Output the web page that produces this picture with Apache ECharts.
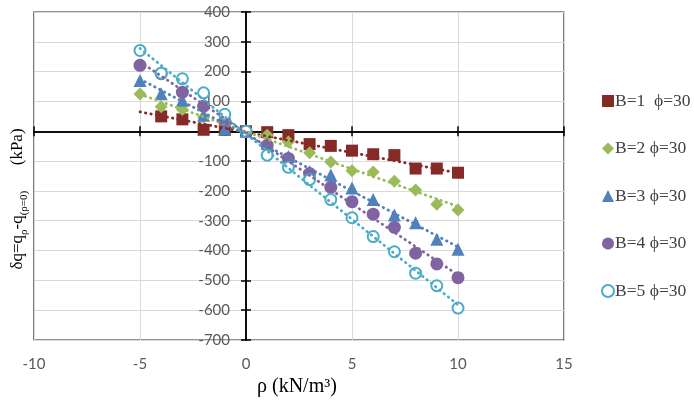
<!DOCTYPE html>
<html><head><meta charset="utf-8">
<script src="https://cdn.jsdelivr.net/npm/echarts@6/dist/echarts.min.js"></script>
</head><body style="margin:0;background:#fff">
<div id="c" style="width:694px;height:411px"></div>
<script>
const seriesNames = ['B=1  ϕ=30', 'B=2 ϕ=30', 'B=3 ϕ=30', 'B=4 ϕ=30', 'B=5 ϕ=30'];
const rhoB1 = [-4, -3, -2, -1, 0, 1, 2, 3, 4, 5, 6, 7, 8, 9, 10];
const rhoAll = [-5, -4, -3, -2, -1, 0, 1, 2, 3, 4, 5, 6, 7, 8, 9, 10];
const dqB1 = [50, 40, 5, 5, 0, -3, -13, -43, -49, -65, -77, -80, -125, -125, -139];
const dqB2 = [125, 82, 73, 47, 23, 0, -13, -36, -72, -103, -132, -137, -168, -197, -245, -264];
const dqB3 = [170, 126, 104, 54, 8, 0, -40, -85, -135, -147, -190, -229, -281, -307, -362, -396];
const dqB4 = [221, 193, 131, 84, 35, 0, -47, -91, -142, -188, -236, -278, -322, -409, -445, -491];
const dqB5 = [271, 195, 176, 129, 57, 0, -80, -121, -162, -229, -290, -353, -404, -476, -518, -593];
// dotted trendline end points: [rho start, rho end], [dq start, dq end]
const trendRho = [-5, 10];
const trendB1 = [65, -140];
const trendB2 = [124, -252];
const trendB3 = [175, -388];
const trendB4 = [233, -482];
const trendB5 = [278, -582];
const xTicks = { min: -10, max: 15, interval: 5 };
const yTicks = { min: -700, max: 400, interval: 100 };

const colors = ['#862a28', '#9BBB59', '#4F81BD', '#8064A2', '#4BACC6'];
const symbols = ['rect', 'diamond', 'triangle', 'circle', 'emptyCircle'];
const sizes = [12, 13, 13, 13, 11];
const xsets = [rhoB1, rhoAll, rhoAll, rhoAll, rhoAll];
const ysets = [dqB1, dqB2, dqB3, dqB4, dqB5];
const trends = [trendB1, trendB2, trendB3, trendB4, trendB5];

// grid geometry
const G = { left: 34, right: 130, top: 12, bottom: 71 };
const plotW = 694 - G.left - G.right;
const zeroOffset = plotW * (0 - xTicks.min) / (xTicks.max - xTicks.min); // distance of rho=0 from left edge

const pair = (xs, ys) => xs.map((x, i) => [x, ys[i]]);
const series = [];
for (let i = 0; i < 5; i++) {
  series.push({
    name: seriesNames[i], type: 'scatter', xAxisIndex: 0, yAxisIndex: 0,
    symbol: symbols[i], symbolSize: sizes[i],
    itemStyle: i === 4 ? { color: colors[i], borderColor: colors[i], borderWidth: 2, opacity: 1 } : { color: colors[i], opacity: 1 },
    data: pair(xsets[i], ysets[i]), z: 3
  });
}
for (let i = 0; i < 5; i++) {
  series.push({
    name: 'trend' + (i + 1), type: 'line', xAxisIndex: 0, yAxisIndex: 0,
    symbol: 'none', silent: true, z: 4,
    lineStyle: { color: colors[i], width: 2.8, type: [0.5, 5], cap: 'round' },
    data: pair(trendRho, trends[i])
  });
}

const tickFont = { color: '#595959', fontSize: 15, fontFamily: 'Lato' };
const axisBlack = { color: '#000', width: 1.5 };
const chart = echarts.init(document.getElementById('c'));
chart.setOption({
  animation: false,
  backgroundColor: '#fff',
  grid: [
    { ...G, show: true, borderColor: '#262626', borderWidth: 1.2 },
    { ...G }
  ],
  xAxis: [
    { type: 'value', gridIndex: 0, position: 'bottom', ...xTicks,
      axisLine: { onZero: true, onZeroAxisIndex: 0, lineStyle: axisBlack },
      axisTick: { show: true, length: 5, lineStyle: axisBlack },
      axisLabel: { show: false },
      splitLine: { show: true, lineStyle: { color: '#d9d9d9', width: 1 } } },
    { type: 'value', gridIndex: 0, position: 'top', ...xTicks,
      axisLine: { onZero: true, onZeroAxisIndex: 0, lineStyle: axisBlack },
      axisTick: { show: true, length: 5, lineStyle: axisBlack },
      axisLabel: { show: false }, splitLine: { show: false } },
    { type: 'value', gridIndex: 1, position: 'bottom', ...xTicks,
      axisLine: { show: false, onZero: false }, axisTick: { show: false },
      axisLabel: { ...tickFont, margin: 17, showMinLabel: true, showMaxLabel: true },
      splitLine: { show: false } }
  ],
  yAxis: [
    { type: 'value', gridIndex: 0, position: 'left', offset: -zeroOffset, ...yTicks,
      axisLine: { show: true, onZero: false, lineStyle: axisBlack },
      axisTick: { show: true, length: 5, lineStyle: axisBlack },
      axisLabel: { ...tickFont, margin: 16, showMinLabel: true, showMaxLabel: true },
      splitLine: { show: true, lineStyle: { color: '#d9d9d9', width: 1 } } },
    { type: 'value', gridIndex: 0, position: 'right', offset: -(plotW - zeroOffset), ...yTicks,
      axisLine: { show: true, onZero: false, lineStyle: axisBlack },
      axisTick: { show: true, length: 5, lineStyle: axisBlack },
      axisLabel: { show: false }, splitLine: { show: false } },
    { type: 'value', gridIndex: 1, ...yTicks, show: false }
  ],
  legend: {
    orient: 'vertical', left: 596, top: 87, itemGap: 29.5,
    itemWidth: 12, itemHeight: 12,
    textStyle: { fontFamily: 'Liberation Serif', fontSize: 17.5, color: '#404040', padding: [0, 0, 0, -4] },
    data: seriesNames.map((n, i) => ({ name: n, icon: symbols[i],
      itemStyle: i === 4 ? { color: colors[i], borderColor: colors[i], borderWidth: 1.5 } : { color: colors[i] } }))
  },
  graphic: [
    { type: 'text', x: 18, y: 199, rotation: Math.PI / 2,
      style: {
        text: '{a|δq=q}{s|ρ}{a|-q}{s|(ρ=0)}{a|      (kPa)}',
        align: 'center', verticalAlign: 'middle', fill: '#000',
        rich: {
          a: { fontFamily: 'Liberation Serif', fontSize: 17, lineHeight: 24, verticalAlign: 'middle', color: '#000' },
          s: { fontFamily: 'Liberation Serif', fontSize: 11, lineHeight: 13, verticalAlign: 'bottom', color: '#000' }
        }
      } },
    { type: 'text', left: 257, top: 377,
      style: { text: 'ρ (kN/m³)', fontFamily: 'Liberation Serif', fontSize: 20, fill: '#000' } }
  ],
  series: series
});
</script>
</body></html>
